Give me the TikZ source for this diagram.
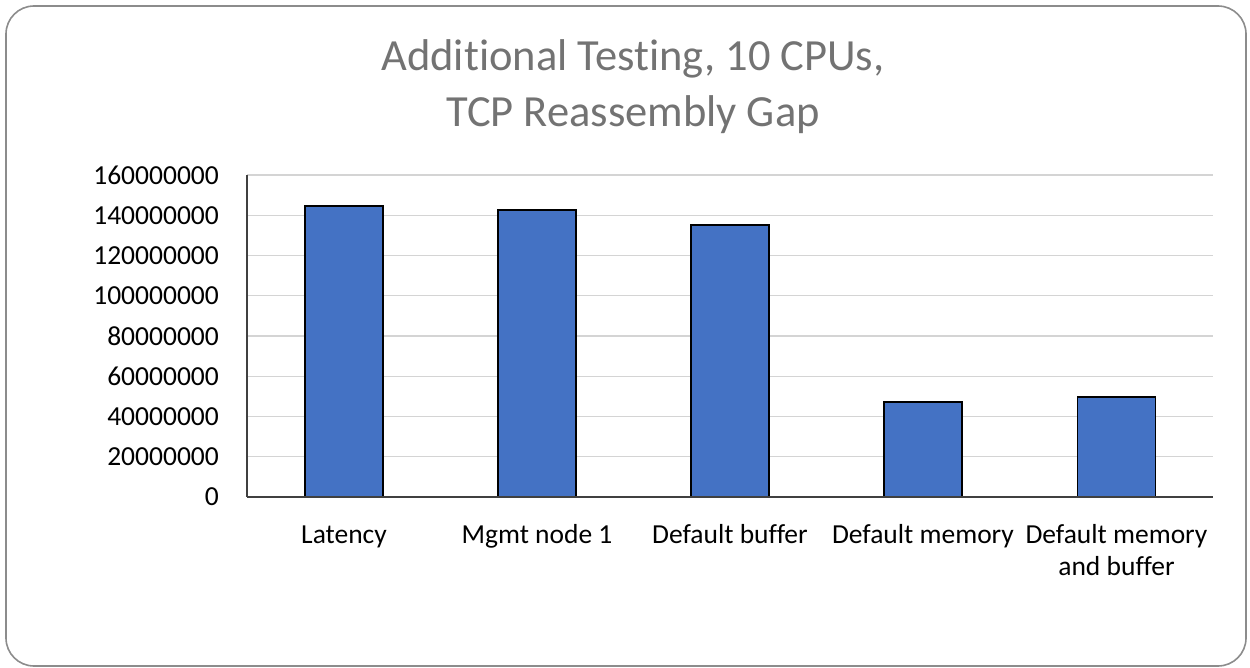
\documentclass[tikz,border=0pt]{standalone}
\usepackage{fontspec}
\setmainfont{Carlito}[Ligatures=NoCommon]
\definecolor{barblue}{HTML}{4472C4}
\definecolor{gridgray}{HTML}{D4D4D4}
\definecolor{titlegray}{HTML}{737373}
\definecolor{framegray}{HTML}{8C8C8C}
\definecolor{axisgray}{HTML}{404040}
\begin{document}
\begin{tikzpicture}[x=1pt,y=-1pt,
  barbox/.style={draw=black,line width=1.4pt,fill=barblue},
  gridline/.style={draw=gridgray,line width=1.4pt},
  axisline/.style={draw=axisgray,line width=1.2pt},
  ticklbl/.style={anchor=east,font=\fontsize{27.5}{31}\selectfont,inner sep=0pt},
  catlbl/.style={anchor=base,align=center,font=\fontsize{27.5}{32}\selectfont,inner sep=0pt}]
\useasboundingbox (0,0) rectangle (1250,668);
\draw[framegray,line width=1.6pt,rounded corners=28pt] (6,6) rectangle (1246,666);
% title (anchor base = baseline of last line)
\node[font=\fontsize{44.5}{56}\selectfont,text=titlegray,align=center,anchor=base,inner sep=0pt] (title) at (633,127)
  {Additional Testing, 10 CPUs,\\TCP Reassembly Gap};
% grid lines
\foreach \k in {1,...,8} {
  \draw[gridline] (247,{497-\k*40.25}) -- (1213,{497-\k*40.25});
}
% tick labels
\foreach \k/\v in {0/0,1/20000000,2/40000000,3/60000000,4/80000000,5/100000000,6/120000000,7/140000000,8/160000000} {
  \node[ticklbl] (y\k) at (219,{497-\k*40.25}) {\v};
}
% bars
\foreach \c/\t [count=\i] in {344/206,537/210,730/225,923/402,1116.5/397} {
  \draw[barbox] ({\c-39},497) rectangle ({\c+39},\t);
  \coordinate (b\i) at (\c,497);
}
% axes
\draw[axisline] (247,175) -- (247,497);
\draw[axisline] (247,497) -- (1213,497);
% category labels
\node[catlbl] (c1) at (344,543) {Latency};
\node[catlbl] (c2) at (537,543) {Mgmt node 1};
\node[catlbl] (c3) at (730,543) {Default buffer};
\node[catlbl] (c4) at (923,543) {Default memory};
\node[catlbl] (c5) at (1116.5,575) {Default memory\\and buffer};
\end{tikzpicture}
\end{document}
